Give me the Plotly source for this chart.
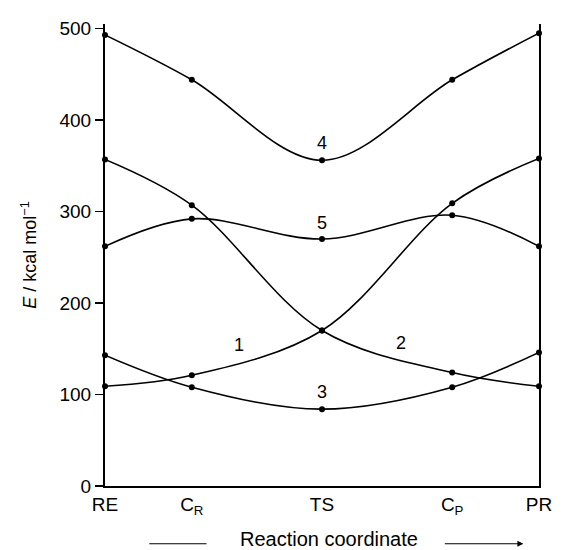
import plotly.graph_objects as go

# Reaction coordinate positions (fraction of path) and labels
x_pos = [0.0, 0.2, 0.5, 0.8, 1.0]
x_labels = ["RE", "C<sub>R</sub>", "TS", "C<sub>P</sub>", "PR"]

# Energies (kcal/mol) for the five curves
curve1 = [109, 121, 170, 309, 358]
curve2 = [357, 307, 170, 124, 109]
curve3 = [143, 108, 84, 108, 146]
curve4 = [493, 444, 356, 444, 495]
curve5 = [262, 292, 270, 296, 262]

y_ticks = [0, 100, 200, 300, 400, 500]

# Curve number labels: (text, x, y)
curve_labels = [("4", 0.5, 375), ("5", 0.5, 287), ("1", 0.308, 154),
                 ("3", 0.5, 103), ("2", 0.683, 156)]

FONT = "Liberation Sans, Arial, Helvetica, sans-serif"

fig = go.Figure()
for ys in [curve1, curve2, curve3, curve4, curve5]:
    fig.add_trace(go.Scatter(
        x=x_pos, y=ys, mode="lines+markers",
        line=dict(color="black", width=1.6, shape="spline", smoothing=1.0),
        marker=dict(color="black", size=6),
        cliponaxis=False, showlegend=False, hoverinfo="skip"))

for txt, xx, yy in curve_labels:
    fig.add_annotation(x=xx, y=yy, text=txt, showarrow=False,
                       xanchor="center", yanchor="middle",
                       font=dict(size=18, color="black", family=FONT))

# x-axis title with arrow decoration
fig.add_annotation(xref="paper", yref="paper", x=0.515, y=-0.114,
                   xanchor="center", yanchor="middle", borderpad=0,
                   text="Reaction coordinate", showarrow=False,
                   font=dict(size=20, color="black", family=FONT))
fig.add_shape(type="line", xref="paper", yref="paper",
              x0=0.102, x1=0.234, y0=-0.125, y1=-0.125,
              line=dict(color="black", width=1.2))
fig.add_annotation(xref="paper", yref="paper", x=0.964, y=-0.125,
                   ax=-80, ay=0, axref="pixel", ayref="pixel",
                   text="", showarrow=True, arrowhead=2, arrowsize=1,
                   arrowwidth=1.2, arrowcolor="black")

fig.update_layout(
    width=564, height=550,
    margin=dict(l=105, r=18, t=24, b=64),
    paper_bgcolor="white", plot_bgcolor="white",
    font=dict(family=FONT, color="black", size=19),
    xaxis=dict(range=[0, 1], tickvals=x_pos, ticktext=x_labels,
               showgrid=False, zeroline=False, showline=True,
               linecolor="black", linewidth=2, ticks="",
               tickfont=dict(size=19), fixedrange=True),
    yaxis=dict(range=[0, 505], tickvals=y_ticks,
               showgrid=False, zeroline=False, showline=True, mirror=True,
               linecolor="black", linewidth=2, ticks="outside", ticklen=8,
               tickwidth=1.5, tickcolor="black", tickfont=dict(size=19),
               title=dict(text="<i>E</i> / kcal mol<sup>\u22121</sup>",
                          font=dict(size=18), standoff=18),
               fixedrange=True),
)

fig.write_html("out.html",
               config={"displayModeBar": False, "staticPlot": True},
               post_script="document.body.style.margin='0';document.body.style.overflow='hidden';")
